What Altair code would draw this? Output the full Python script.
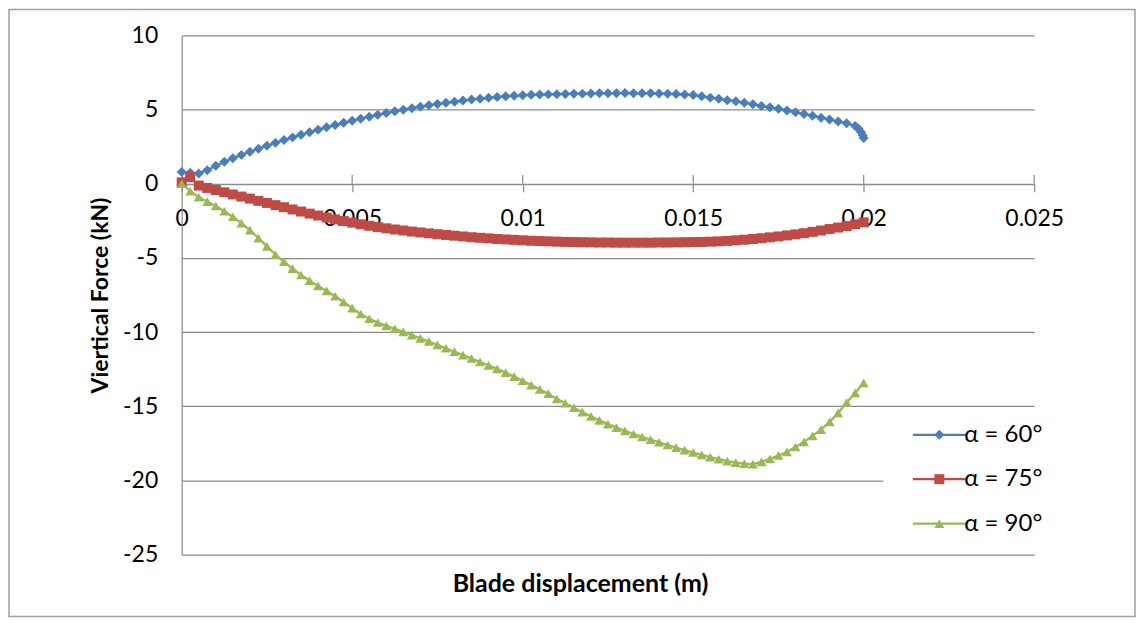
import altair as alt
import pandas as pd

# ---------------- data ----------------
disp_mm = [0, 0.25, 0.5, 0.75, 1, 1.25, 1.5, 1.75, 2, 2.25, 2.5, 2.75, 3, 3.25, 3.5, 3.75,
           4, 4.25, 4.5, 4.75, 5, 5.25, 5.5, 5.75, 6, 6.25, 6.5, 6.75, 7, 7.25, 7.5, 7.75,
           8, 8.25, 8.5, 8.75, 9, 9.25, 9.5, 9.75, 10, 10.25, 10.5, 10.75, 11, 11.25, 11.5, 11.75,
           12, 12.25, 12.5, 12.75, 13, 13.25, 13.5, 13.75, 14, 14.25, 14.5, 14.75, 15, 15.25, 15.5, 15.75,
           16, 16.25, 16.5, 16.75, 17, 17.25, 17.5, 17.75, 18, 18.25, 18.5, 18.75, 19, 19.25, 19.5, 19.75, 20]

force_60 = [0.80, 0.74, 0.70, 0.92, 1.22, 1.48, 1.72, 1.95, 2.16, 2.36, 2.56, 2.76, 2.95, 3.13, 3.31, 3.48,
            3.65, 3.81, 3.96, 4.11, 4.25, 4.39, 4.52, 4.65, 4.77, 4.89, 5.00, 5.10, 5.20, 5.29, 5.38, 5.46,
            5.54, 5.61, 5.68, 5.74, 5.80, 5.85, 5.90, 5.94, 5.97, 6.00, 6.02, 6.03, 6.04, 6.06, 6.07, 6.08,
            6.09, 6.10, 6.11, 6.11, 6.12, 6.11, 6.11, 6.10, 6.09, 6.07, 6.05, 6.02, 5.98, 5.90, 5.81, 5.73,
            5.64, 5.56, 5.47, 5.37, 5.25, 5.16, 5.06, 4.95, 4.82, 4.71, 4.59, 4.46, 4.33, 4.20, 4.08, 3.90, 3.08]
tail_60_mm = [19.85, 19.92, 19.97]
tail_60 = [3.72, 3.50, 3.28]

force_75 = [0.10, 0.45, -0.12, -0.28, -0.42, -0.57, -0.72, -0.86, -1.00, -1.15, -1.29, -1.44, -1.58, -1.73, -1.87, -2.01,
            -2.14, -2.27, -2.40, -2.51, -2.62, -2.73, -2.83, -2.92, -3.00, -3.08, -3.15, -3.22, -3.28, -3.34, -3.40, -3.45,
            -3.50, -3.55, -3.60, -3.64, -3.68, -3.72, -3.75, -3.78, -3.81, -3.84, -3.86, -3.88, -3.90, -3.92, -3.93, -3.94,
            -3.95, -3.96, -3.96, -3.97, -3.97, -3.97, -3.97, -3.97, -3.96, -3.96, -3.95, -3.94, -3.93, -3.92, -3.90, -3.88,
            -3.85, -3.81, -3.77, -3.72, -3.67, -3.61, -3.55, -3.48, -3.41, -3.33, -3.24, -3.15, -3.05, -2.95, -2.85, -2.73, -2.60]

force_90 = [0.00, -0.50, -0.90, -1.20, -1.50, -1.85, -2.22, -2.65, -3.12, -3.66, -4.22, -4.78, -5.25, -5.72, -6.15, -6.53,
            -6.88, -7.22, -7.58, -7.97, -8.38, -8.78, -9.10, -9.35, -9.58, -9.78, -9.98, -10.20, -10.42, -10.63, -10.86, -11.09,
            -11.32, -11.55, -11.78, -12.01, -12.24, -12.48, -12.73, -13.00, -13.28, -13.57, -13.86, -14.15, -14.50, -14.80, -15.10, -15.40,
            -15.68, -15.95, -16.20, -16.44, -16.66, -16.87, -17.06, -17.25, -17.43, -17.61, -17.79, -17.96, -18.12, -18.28, -18.43, -18.57,
            -18.70, -18.80, -18.87, -18.90, -18.75, -18.55, -18.32, -18.08, -17.75, -17.40, -17.00, -16.58, -16.05, -15.45, -14.75, -14.10, -13.42]

series_labels = ["α = 60°", "α = 75°", "α = 90°"]
series_keys = ["60", "75", "90"]
series_colors = ["#4a7ebb", "#be4b48", "#98b954"]
series_shapes = ["diamond", "square", "triangle-up"]
x_ticks = [0, 0.005, 0.01, 0.015, 0.02, 0.025]
y_ticks = [-25, -20, -15, -10, -5, 0, 5, 10]

# ---------------- table ----------------
rows = []
for lab, key, mm, vals in [
    (series_labels[0], series_keys[0], disp_mm + tail_60_mm, force_60 + tail_60),
    (series_labels[1], series_keys[1], disp_mm, force_75),
    (series_labels[2], series_keys[2], disp_mm, force_90),
]:
    for m, v in zip(mm, vals):
        rows.append({"x": m / 1000.0, "y": v, "label": lab, "key": key})
df = pd.DataFrame(rows).sort_values(["key", "x"])
tick_df = pd.DataFrame({"x": x_ticks[1:]})

GRID = "#8c8c8c"
FONT = "Lato"
W, H = 854, 520

xs = alt.Scale(domain=[0, 0.025], nice=False, zero=False)
ys = alt.Scale(domain=[-25, 10], nice=False, zero=False)

# x axis sits on y = 0
x_off = -(H - H * 10 / 35)
x_axis = alt.Axis(
    values=x_ticks, format="~g", grid=False, offset=x_off, labelFlush=False, labelOverlap=False,
    domainColor=GRID, domainWidth=1.25, tickColor=GRID, tickWidth=1.25, tickSize=8,
    labelFont=FONT, labelFontSize=23, labelColor="#000", labelPadding=16,
    title="Blade displacement (m)", titleFont=FONT, titleFontSize=25, titleFontWeight="bold",
    titleColor="#000", titleX=399, titleY=400, titleBaseline="middle", titleAlign="center",
)
y_axis = alt.Axis(
    values=y_ticks, grid=True, gridColor=GRID, gridWidth=1.25, labelExpr="'' + datum.value",
    domainColor=GRID, domainWidth=1.25, ticks=False, tickSize=0, labelFlush=False,
    labelFont=FONT, labelFontSize=23, labelColor="#000", labelPadding=24,
    title="Viertical Force (kN)", titleFont=FONT, titleFontSize=23, titleFontWeight="bold",
    titleColor="#000", titleX=-81, titleY=260, titleBaseline="middle", titleAlign="center", titleAngle=270,
)

X = alt.X("x:Q", scale=xs, axis=x_axis)
Y = alt.Y("y:Q", scale=ys, axis=y_axis)

LX, LY = 703, 376
line_legend = alt.Legend(
    orient="none", legendX=LX, legendY=LY, title=None,
    symbolType="M-5.9,0H5.9", symbolSize=81, symbolStrokeWidth=2.25,
    symbolOffset=32, labelOffset=13, rowPadding=20.5, padding=12,
    fillColor="white", labelFont=FONT, labelFontSize=24, labelColor="#000", zindex=0,
)
marker_legend = alt.Legend(
    orient="none", legendX=LX, legendY=LY, title=None,
    symbolSize=100, symbolOffset=32, rowPadding=20.5, padding=12,
    labelFont=FONT, labelFontSize=24, labelExpr="''", zindex=1,
)

frame = alt.Chart(pd.DataFrame({"a": [1]})).mark_rect(
    fillOpacity=0, stroke="#a0a0a0", strokeWidth=1.5
).encode(x=alt.value(-173), x2=alt.value(955), y=alt.value(-26), y2=alt.value(582))

up_ticks = alt.Chart(tick_df).mark_rule(color=GRID, strokeWidth=1.25).encode(
    x=X, y=alt.datum(0), y2=alt.datum(0.6)
)

lines = alt.Chart(df).mark_line(strokeWidth=2.25).encode(
    x=X, y=Y,
    stroke=alt.Stroke("label:N", scale=alt.Scale(domain=series_labels, range=series_colors), legend=line_legend),
)

points = alt.Chart(df).mark_point(filled=True, size=100, opacity=1).encode(
    x=X, y=Y,
    fill=alt.Fill("key:N", scale=alt.Scale(domain=series_keys, range=series_colors), legend=marker_legend),
    shape=alt.Shape("key:N", scale=alt.Scale(domain=series_keys, range=series_shapes), legend=marker_legend),
)

chart = alt.layer(frame, up_ticks, lines, points).properties(
    width=W, height=H, padding=0, background="white"
).configure_view(strokeWidth=0)

chart.save("out.html", embed_options={"renderer": "svg", "actions": False})
